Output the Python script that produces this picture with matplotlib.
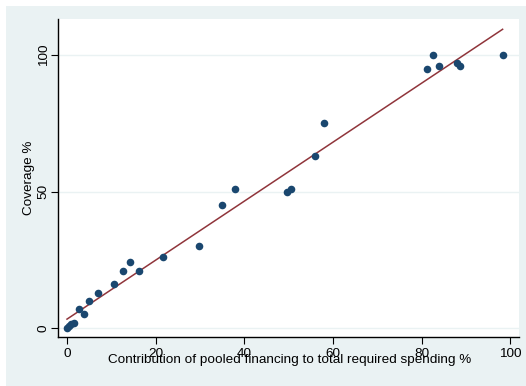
import matplotlib
matplotlib.use("Agg")
import matplotlib.pyplot as plt
from matplotlib.patches import Rectangle
import numpy as np

plt.rcParams['font.family'] = ['Liberation Sans', 'DejaVu Sans']

pooled = [0.0, 0.5, 0.9, 1.6, 2.8, 3.8, 5.0, 7.0, 10.7, 12.6, 14.3, 16.3, 21.6,
          29.9, 35.0, 38.0, 49.6, 50.5, 56.0, 57.9, 81.3, 82.5, 83.9, 88.0, 88.6, 98.3]
coverage = [0.0, 0.7, 1.5, 1.9, 7.0, 5.0, 10.0, 13.0, 16.0, 21.0, 24.0, 21.0, 26.0,
            30.0, 45.0, 51.0, 50.0, 51.0, 63.0, 75.0, 95.0, 100.0, 96.0, 97.0, 96.0, 100.0]
xticks = [0, 20, 40, 60, 80, 100]
yticks = [0, 50, 100]

W, H = 526, 386
fig = plt.figure(figsize=(W / 100, H / 100), dpi=100)
fig.patch.set_facecolor('white')
fig.patches.append(Rectangle((6 / W, 0), 1, 1 - 6 / H, transform=fig.transFigure,
                             facecolor='#EAF2F3', edgecolor='none', zorder=-10))

ax = fig.add_axes([58 / W, 1 - 337 / H, (519 - 58) / W, (337 - 19) / H])
ax.set_facecolor('white')

x = np.array(pooled)
y = np.array(coverage)
b, a = np.polyfit(x, y, 1)
xs = np.array([x.min(), x.max()])
ax.plot(xs, a + b * xs, color='#90353B', lw=1.1, zorder=2)
ax.scatter(x, y, s=30, color='#1A476F', zorder=3, linewidths=0)

ax.set_xlim(-2.03, 102.0)
ax.set_ylim(-3.3, 113.2)
ax.set_xticks(xticks)
ax.set_yticks(yticks)
for t in yticks:
    ax.axhline(t, color='#EAF2F3', lw=1.0, zorder=1)

for s in ['top', 'right']:
    ax.spines[s].set_visible(False)
for s in ['left', 'bottom']:
    ax.spines[s].set_color('black')
    ax.spines[s].set_linewidth(1.0)

ax.tick_params(axis='both', direction='out', length=5, width=0.8, color='black',
               labelsize=9.7)
ax.tick_params(axis='x', pad=3)
ax.tick_params(axis='y', pad=1)
ax.set_yticklabels([str(t) for t in yticks], rotation=90, va='center')

fig.text(290 / W, 1 - 363 / H,
         'Contribution of pooled financing to total required spending %',
         fontsize=9.7, ha='center', va='baseline')
fig.text(29 / W, 1 - 178 / H, 'Coverage %', fontsize=9.7, rotation=90,
         ha='center', va='center')

fig.savefig('out.png', dpi=100)
